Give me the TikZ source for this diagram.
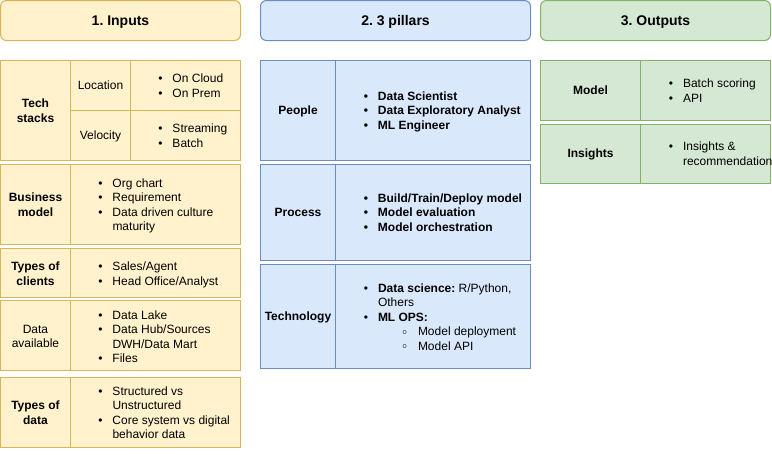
\documentclass[tikz,border=0pt]{standalone}
\usepackage{fontspec}
\setmainfont{Liberation Sans}
\usepackage{xcolor}
\definecolor{inFill}{HTML}{FFF2CC}
\definecolor{inLine}{HTML}{D6B656}
\definecolor{piFill}{HTML}{DAE8FC}
\definecolor{piLine}{HTML}{6C8EBF}
\definecolor{outFill}{HTML}{D5E8D4}
\definecolor{outLine}{HTML}{82B366}
\frenchspacing
\newcommand{\txt}{\fontsize{9}{10.8}\selectfont}
\newcommand{\bul}{\leavevmode\llap{\textbullet\hspace{7.4pt}}}
\newcommand{\subbul}{\leavevmode\hspace*{30pt}\llap{\raisebox{1pt}{$\scriptstyle\circ$}\hspace{8pt}}}

\begin{document}
\begin{tikzpicture}[x=0.75pt,y=-0.75pt,line width=0.75pt,font=\txt,
    inputs/.style={draw=inLine,fill=inFill},
    pillars/.style={draw=piLine,fill=piFill},
    outputs/.style={draw=outLine,fill=outFill},
    head/.style={rounded corners=4.5pt},
    title/.style={font=\fontsize{10.5}{12}\selectfont\bfseries,inner sep=0pt,text depth=0pt},
    lbl/.style={align=center,inner sep=0pt,text depth=0pt},
    lblb/.style={lbl,font=\txt\bfseries},
    items/.style={align=left,anchor=west,inner sep=0pt,text depth=0pt}]

    \useasboundingbox (0,0) rectangle (772,454);

    \draw[head,inputs]  (0.5,0.5)   rectangle (240.5,40.5);
    \draw[head,pillars] (260.5,0.5) rectangle (530.5,40.5);
    \draw[head,outputs] (540.5,0.5) rectangle (770.5,40.5);
    \node[title] (inputs)  at (120.5,20.5) {1. Inputs};
    \node[title] (pillars) at (395.5,20.5) {2. 3 pillars};
    \node[title] (outputs) at (655.5,20.5) {3. Outputs};

    \draw[inputs] (0.5,60.5) rectangle (240.5,160.5);
    \draw[inLine] (70.5,60.5) -- (70.5,160.5) (130.5,60.5) -- (130.5,160.5)
                  (70.5,110.5) -- (240.5,110.5);
    \foreach \t/\b in {164/244,248/297,300/370,377/447}{
        \draw[inputs] (0.5,\t+0.5) rectangle (240.5,\b+0.5);
        \draw[inLine] (70.5,\t+0.5) -- (70.5,\b+0.5);
    }
    \foreach \t/\b in {60/160,164/260,264/368}{
        \draw[pillars] (260.5,\t+0.5) rectangle (530.5,\b+0.5);
        \draw[piLine] (335.5,\t+0.5) -- (335.5,\b+0.5);
    }
    \foreach \t/\b in {60/120,124/183}{
        \draw[outputs] (540.5,\t+0.5) rectangle (770.5,\b+0.5);
        \draw[outLine] (640.5,\t+0.5) -- (640.5,\b+0.5);
    }

    \node[lblb] (tech)     at (35.5,110.5) {Tech\\stacks};
    \node[lbl]  (location) at (100.5,85.5)  {Location};
    \node[lbl]  (velocity) at (100.5,135.5) {Velocity};
    \node[items] (locList) at (172,85.5)  {\bul On Cloud\\\bul On Prem};
    \node[items] (velList) at (172,135.5) {\bul Streaming\\\bul Batch};

    \node[lblb] (business) at (35.5,204.5) {Business\\model};
    \node[items] (busList) at (112,204.5)
        {\bul Org chart\\\bul Requirement\\\bul Data driven culture\\maturity};
    \node[lblb] (clients) at (35.5,273.5) {Types of\\clients};
    \node[items] (cliList) at (112,273.5) {\bul Sales/Agent\\\bul Head Office/Analyst};
    \node[lbl]  (data) at (35.5,336.5) {Data\\available};
    \node[items] (datList) at (112,336.5)
        {\bul Data Lake\\\bul Data Hub/Sources\\DWH/Data Mart\\\bul Files};
    \node[lblb] (types) at (35.5,412.5) {Types of\\data};
    \node[items] (typList) at (112,412.5)
        {\bul Structured vs\\Unstructured\\\bul Core system vs digital\\behavior data};

    \node[lblb] (people) at (298,110.5) {People};
    \node[items,font=\txt\bfseries] (peoList) at (377.5,110.5)
        {\bul Data Scientist\\\bul Data Exploratory Analyst\\\bul ML Engineer};
    \node[lblb] (process) at (298,212.5) {Process};
    \node[items,font=\txt\bfseries] (proList) at (377.5,212.5)
        {\bul Build/Train/Deploy model\\\bul Model evaluation\\\bul Model orchestration};
    \node[lblb] (technology) at (298,316.5) {Technology};
    \node[items] (tecList) at (377.5,317)
        {\bul\textbf{Data science:} R/Python,\\Others\\\bul\textbf{ML OPS:}\\\subbul Model deployment\\\subbul Model API};

    \node[lblb] (model) at (590.5,90.5) {Model};
    \node[items] (modList) at (682.5,90.5) {\bul Batch scoring\\\bul API};
    \node[lblb] (insights) at (590.5,153.5) {Insights};
    \node[items] (insList) at (682.5,153.5) {\bul Insights \&\\recommendation};
\end{tikzpicture}
\end{document}
